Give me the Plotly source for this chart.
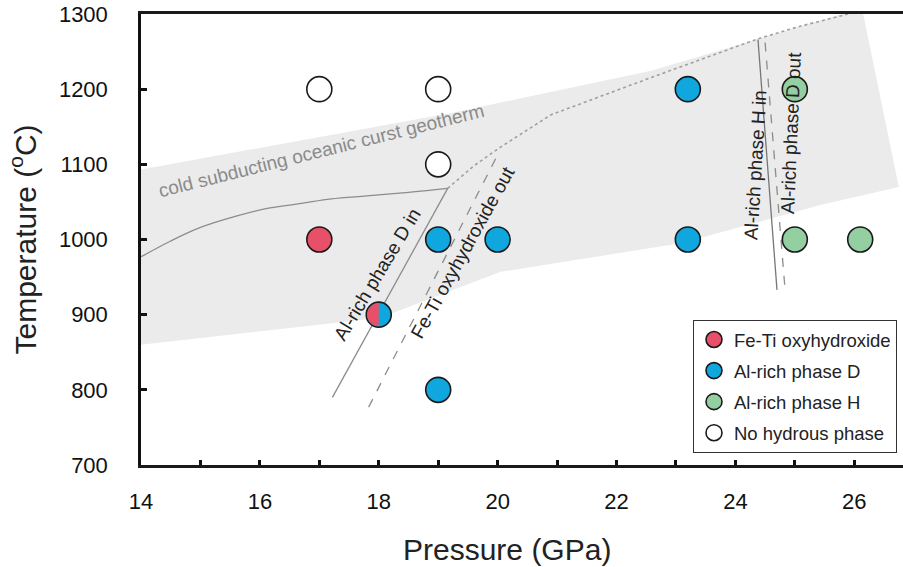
import plotly.graph_objects as go

# ---------------- data ----------------
feti_p = [17]
feti_t = [1000]
phaseD_p = [19, 20, 23.2, 23.2, 19]
phaseD_t = [1000, 1000, 1200, 1000, 800]
phaseH_p = [25, 25, 26.1]
phaseH_t = [1200, 1000, 1000]
none_p = [17, 19, 19]
none_t = [1200, 1200, 1100]
mixed_p = [18]          # Fe-Ti oxyhydroxide + Al-rich phase D
mixed_t = [900]

# cold subducting oceanic crust geotherm band
band_p = [14, 19.2, 22.6, 25.8, 26.15, 26.75, 25.43, 23.08, 20.05, 18.03, 14]
band_t = [1093, 1168, 1225, 1300, 1300, 1070, 1046, 995, 957, 896, 860]

# geotherm (solid) and its extension (dotted)
geo_p = [14.0, 14.5, 15.0, 15.6, 16.1, 16.7, 17.2, 17.8, 18.4, 19.16]
geo_t = [977, 998, 1016, 1031, 1041, 1048, 1054, 1058, 1062, 1068]
geo_ext_p = [19.16, 19.6, 20.05, 20.9, 22.6, 24.38, 25.1, 25.9]
geo_ext_t = [1068, 1098, 1123, 1166, 1216, 1267, 1284, 1300]

# phase boundaries
dIn_p = [17.22, 19.16]
dIn_t = [790, 1068]
fetiOut_p = [17.83, 19.97]
fetiOut_t = [777, 1108]
hIn_p = [24.38, 24.70]
hIn_t = [1266, 933]
dOut_p = [24.50, 24.84]
dOut_t = [1262, 929]

x_ticks = [14, 16, 18, 20, 22, 24, 26]
y_ticks = [700, 800, 900, 1000, 1100, 1200, 1300]

RED = "#e8506a"
BLUE = "#10a6de"
GREEN = "#93cfa1"
WHITE = "#ffffff"
EDGE = "#1a1a1a"
FONT = "Liberation Sans, Arial, sans-serif"

fig = go.Figure()

fig.add_trace(go.Scatter(x=band_p, y=band_t, mode="lines", fill="toself",
                         fillcolor="#ebebeb", line=dict(width=0),
                         hoverinfo="skip", showlegend=False))

line_gray = "#8c8c8c"
fig.add_trace(go.Scatter(x=geo_p, y=geo_t, mode="lines",
                         line=dict(color=line_gray, width=1.3, shape="spline", smoothing=1),
                         hoverinfo="skip", showlegend=False))
fig.add_trace(go.Scatter(x=geo_ext_p, y=geo_ext_t, mode="lines",
                         line=dict(color="#a0a0a0", width=1.6, dash="dot"),
                         hoverinfo="skip", showlegend=False))
fig.add_trace(go.Scatter(x=dIn_p, y=dIn_t, mode="lines", line=dict(color=line_gray, width=1.3),
                         hoverinfo="skip", showlegend=False))
fig.add_trace(go.Scatter(x=fetiOut_p, y=fetiOut_t, mode="lines",
                         line=dict(color=line_gray, width=1.3, dash="dash"),
                         hoverinfo="skip", showlegend=False))
fig.add_trace(go.Scatter(x=hIn_p, y=hIn_t, mode="lines", line=dict(color="#777777", width=1.3),
                         hoverinfo="skip", showlegend=False))
fig.add_trace(go.Scatter(x=dOut_p, y=dOut_t, mode="lines",
                         line=dict(color=line_gray, width=1.3, dash="dash"),
                         hoverinfo="skip", showlegend=False))

MS = 25
def pts(x, y, color, name, show=True):
    fig.add_trace(go.Scatter(x=x, y=y, mode="markers", name=name, showlegend=show,
                             legendgroup=name,
                             marker=dict(size=MS, color=color, line=dict(color=EDGE, width=1.6))))

pts(feti_p, feti_t, RED, "Fe-Ti oxyhydroxide")
pts(phaseD_p, phaseD_t, BLUE, "Al-rich phase D")
pts(phaseH_p, phaseH_t, GREEN, "Al-rich phase H")
pts(none_p, none_t, WHITE, "No hydrous phase")
pts(mixed_p, mixed_t, BLUE, "mixed", show=False)

# left (red) half of the mixed marker, in pixel units around the data point
r = MS / 2 - 0.9
k = 0.5523 * r
half = (f"M 0,{-r} C {-k},{-r} {-r},{-k} {-r},0 "
        f"C {-r},{k} {-k},{r} 0,{r} Z")
shapes = [dict(type="path", xref="x", yref="y", xsizemode="pixel", ysizemode="pixel",
               xanchor=mixed_p[0], yanchor=mixed_t[0], path=half,
               fillcolor=RED, line=dict(width=0), layer="above")]

ann_font = dict(family=FONT, size=19, color="#222222")
annotations = [
    dict(x=17.04, y=1118, text="cold subducting oceanic curst geotherm", textangle=-14,
         font=dict(family=FONT, size=19, color="#8a8a8a")),
    dict(x=17.97, y=954, text="Al-rich phase D in", textangle=-59, font=ann_font),
    dict(x=19.41, y=983, text="Fe-Ti oxyhydroxide out", textangle=-61, font=ann_font),
    dict(x=24.33, y=1099, text="Al-rich phase H in", textangle=-86.5, font=ann_font),
    dict(x=24.94, y=1142, text="Al-rich phase D out", textangle=-87.5, font=ann_font),
]
for a in annotations:
    a.update(xref="x", yref="y", showarrow=False)
annotations.append(dict(xref="paper", yref="paper", x=0.4797, y=-0.1863, xanchor="center",
                        yanchor="middle", showarrow=False, text="Pressure (GPa)",
                        font=dict(family=FONT, size=30, color="#222222")))

fig.update_layout(
    width=903, height=567,
    margin=dict(l=141, r=0, t=14, b=102, autoexpand=False),
    paper_bgcolor="white", plot_bgcolor="white",
    font=dict(family=FONT, color="#111111"),
    shapes=shapes, annotations=annotations,
    showlegend=True,
    legend=dict(x=0.7244, y=0.3215, xanchor="left", yanchor="top",
                bgcolor="white", bordercolor="#333333", borderwidth=1,
                font=dict(family=FONT, size=18.5, color="#222222"),
                tracegroupgap=4, itemsizing="trace"),
)
fig.update_xaxes(range=[14, 26.82], tickvals=x_ticks, ticktext=[str(v) for v in x_ticks],
                 showgrid=False, zeroline=False, showline=True, mirror=True, automargin=False,
                 linecolor="#1a1a1a", linewidth=2.5,
                 ticks="inside", ticklen=5, tickwidth=2.5, tickcolor="#111111",
                 minor=dict(dtick=1, ticks="inside", ticklen=5, tickwidth=2.5, tickcolor="#111111"),
                 tickfont=dict(family=FONT, size=22, color="#111111"), ticklabelstandoff=15,
                 ticklabeloverflow="allow")
fig.update_yaxes(range=[700, 1300], tickvals=y_ticks, ticktext=[str(v) for v in y_ticks],
                 showgrid=False, zeroline=False, showline=True, linecolor="#111111", linewidth=2.5,
                 automargin=False,
                 ticks="inside", ticklen=6, tickwidth=2.5, tickcolor="#111111",
                 tickfont=dict(family=FONT, size=22, color="#111111"), ticklabelstandoff=26,
                 ticklabeloverflow="allow",
                 title=dict(text="Temperature (<sup>o</sup>C)",
                            font=dict(family=FONT, size=30, color="#222222"), standoff=14))

fig.write_html("out.html",
               config={"displayModeBar": False},
               post_script="document.body.style.margin='0';document.body.style.padding='0';"
                           "document.body.style.overflow='hidden';")
